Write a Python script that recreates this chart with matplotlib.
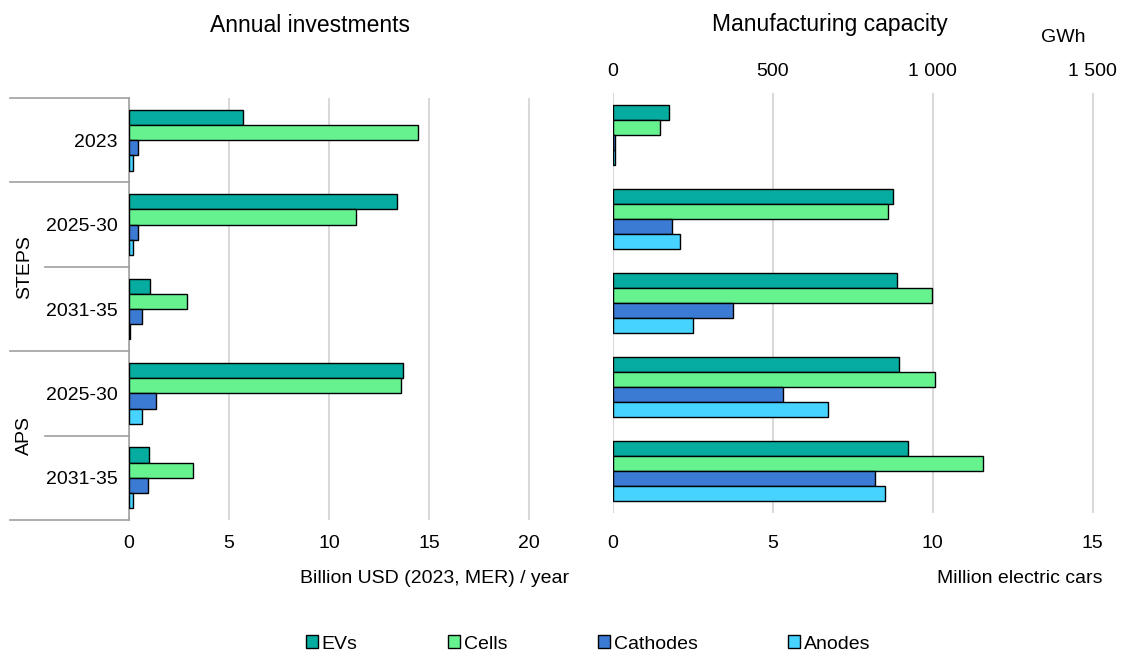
import numpy as np
import matplotlib.pyplot as plt
from matplotlib.patches import Patch

plt.rcParams['font.family'] = ['Liberation Sans', 'DejaVu Sans']
plt.rcParams['font.size'] = 14

# data
periods = ['2023', '2025-30', '2031-35', '2025-30', '2031-35']
scenarios = ['STEPS', 'APS']
series = ['EVs', 'Cells', 'Cathodes', 'Anodes']
colors = ['#07ACA0', '#66F38F', '#3C7BD4', '#47D3FF']

# Annual investments, billion USD (2023, MER) / year
inv_evs = [5.7, 13.4, 1.07, 13.7, 1.02]
inv_cells = [14.45, 11.35, 2.92, 13.6, 3.22]
inv_cathodes = [0.47, 0.43, 0.65, 1.35, 0.97]
inv_anodes = [0.18, 0.22, 0.06, 0.65, 0.22]

# Manufacturing capacity, million electric cars
cap_evs = [1.76, 8.77, 8.87, 8.96, 9.24]
cap_cells = [1.49, 8.61, 9.97, 10.06, 11.58]
cap_cathodes = [0.06, 1.85, 3.77, 5.33, 8.2]
cap_anodes = [0.08, 2.1, 2.5, 6.74, 8.51]

gwh_ticks = [0, 500, 1000, 1500]
gwh_labels = ['0', '500', '1 000', '1 500']

fig = plt.figure(figsize=(11.21, 6.55), dpi=100)
ax1 = fig.add_axes([129/1121, 1-520/655, 440/1121, 422/655])
ax2 = fig.add_axes([612.7/1121, 1-513/655, 489.6/1121, 420/655])

y = np.arange(len(periods))
h = 0.18
offs = [-1.5*h, -0.5*h, 0.5*h, 1.5*h]

for ax, vals in [(ax1, [inv_evs, inv_cells, inv_cathodes, inv_anodes]),
                 (ax2, [cap_evs, cap_cells, cap_cathodes, cap_anodes])]:
    for v, o, c in zip(vals, offs, colors):
        ax.barh(y + o, v, height=h, color=c, edgecolor='black', linewidth=1, zorder=3)
    ax.set_ylim(len(periods)-0.5, -0.5)
    ax.grid(axis='x', color='#d9d9d9', linewidth=1.5, zorder=0)
    for s in ['top', 'right', 'bottom']:
        ax.spines[s].set_visible(False)

ax1.set_xlim(0, 22)
ax1.set_xticks([0, 5, 10, 15, 20])
ax1.tick_params(axis='x', length=0, pad=11)
ax1.set_yticks(y)
ax1.set_yticklabels(periods)
ax1.tick_params(axis='y', length=0, pad=8)
ax1.spines['left'].set_color('#a0a0a0')
ax1.spines['left'].set_linewidth(1.2)
ax1.set_xlabel('Billion USD (2023, MER) / year', loc='right', labelpad=12.5)

# grouped category labels on the left
tr = ax1.get_yaxis_transform()
for b in [-0.5, 0.5, 2.5, 4.5]:
    ax1.plot([-0.27, 0], [b, b], color='#a0a0a0', lw=1.2, transform=tr, clip_on=False)
for b in [1.5, 3.5]:
    ax1.plot([-0.19, 0], [b, b], color='#a0a0a0', lw=1.2, transform=tr, clip_on=False)
ax1.text(-0.238, 1.5, 'STEPS', rotation=90, ha='center', va='center', transform=tr)
ax1.text(-0.238, 3.5, 'APS', rotation=90, ha='center', va='center', transform=tr)

ax2.set_xlim(0, 15.3)
ax2.set_xticks([0, 5, 10, 15])
ax2.tick_params(axis='x', length=0, pad=16)
ax2.set_yticks([])
ax2.spines['left'].set_visible(False)
ax2.set_xlabel('Million electric cars', loc='right', labelpad=13)
top = ax2.secondary_xaxis('top', functions=(lambda x: x*100, lambda x: x/100))
top.set_xticks(gwh_ticks)
top.set_xticklabels(gwh_labels)
top.tick_params(length=0, pad=9)
top.spines['top'].set_visible(False)

fig.text(310/1121, 1-25/655, 'Annual investments', ha='center', va='center', fontsize=16.5)
fig.text(830/1121, 1-25/655, 'Manufacturing capacity', ha='center', va='center', fontsize=16.5)
fig.text(1086/1121, 1-37/655, 'GWh', ha='right', va='center')

handles = [Patch(facecolor=c, edgecolor='black', linewidth=1) for c in colors]
fig.legend(handles, series, loc='center', bbox_to_anchor=(588/1121, 1-644/655), ncol=4,
           frameon=False, handlelength=0.62, handleheight=0.62, handletextpad=0.2,
           columnspacing=4.65)

fig.savefig('out.png', dpi=100)
